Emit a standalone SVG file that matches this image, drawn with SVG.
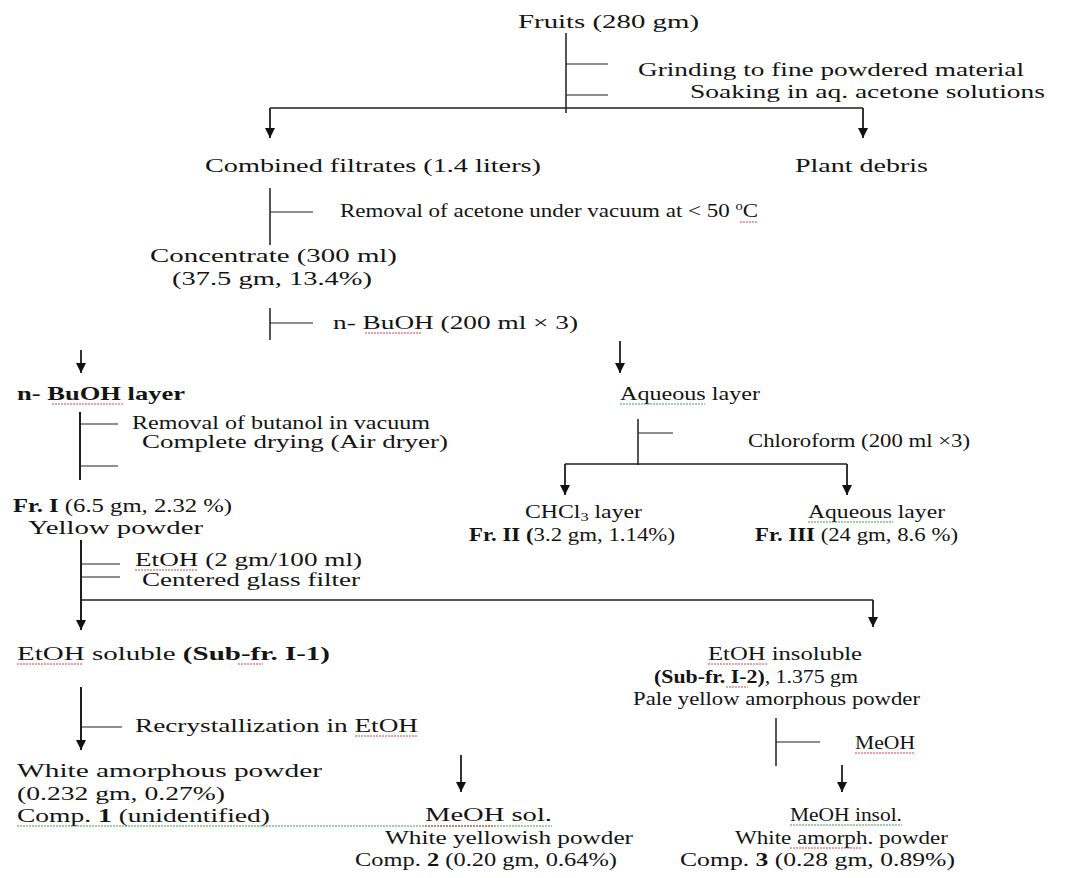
<svg xmlns="http://www.w3.org/2000/svg" width="1067" height="878" viewBox="0 0 1067 878">
<defs>
<style>
text{font-family:"Liberation Serif","Times New Roman",serif;font-size:19px;fill:#141414}
.b{font-weight:bold}
.sm{font-size:18px}
.ln{stroke:#1e1e1e;stroke-width:1.5;fill:none}
.tk{stroke:#1e1e1e;stroke-width:1.2;fill:none}
.ar{stroke:#1e1e1e;stroke-width:1.8;fill:none;marker-end:url(#ah)}
.sr{stroke:#d04848;stroke-width:1;fill:none;stroke-dasharray:2 1}
.sg{stroke:#4a9a4a;stroke-width:1;fill:none;stroke-dasharray:2 1}
</style>
<marker id="ah" viewBox="0 0 10 10" refX="10" refY="5" markerWidth="10" markerHeight="10" markerUnits="userSpaceOnUse" orient="auto">
<path d="M0,0 L10,5 L0,10 z" fill="#111"/>
</marker>
</defs>
<rect width="1067" height="878" fill="#fff"/>

<g id="connectors">
<path class="ln" d="M566,33 V113"/>
<path class="tk" d="M566,64 H608 M566,95 H608"/>
<path class="ln" d="M270,108 H863"/>
<path class="ar" d="M270,108 V138"/>
<path class="ar" d="M863,108 V138"/>
<path class="ln" d="M270,188 V245"/>
<path class="tk" d="M270,212 H313"/>
<path class="ln" d="M270,308 V340"/>
<path class="tk" d="M270,323 H313"/>
<path class="ar" d="M81,350 V373"/>
<path class="ar" d="M620,341 V373"/>
<path class="ln" d="M80,412 V480" style="stroke-width:2"/>
<path class="tk" d="M80,424 H118 M80,466 H118"/>
<path class="ln" d="M638,419 V465"/>
<path class="tk" d="M638,433 H673"/>
<path class="ln" d="M565,464 H847"/>
<path class="ar" d="M565,464 V495"/>
<path class="ar" d="M847,464 V495"/>
<path class="ar" d="M81,540 V630" style="stroke-width:2"/>
<path class="tk" d="M81,564 H120 M81,577 H120"/>
<path class="ln" d="M81,600 H873"/>
<path class="ar" d="M873,600 V627"/>
<path class="ar" d="M81,687 V750" style="stroke-width:2"/>
<path class="tk" d="M81,727 H122"/>
<path class="ln" d="M776,718 V766"/>
<path class="tk" d="M776,742 H820"/>
<path class="ar" d="M842,765 V792"/>
<path class="ar" d="M461,755 V792"/>
</g>

<g id="n-fruits"><text x="518" y="28" textLength="181" lengthAdjust="spacingAndGlyphs">Fruits (280 gm)</text></g>
<g id="s-grinding">
<text x="638" y="76" textLength="386" lengthAdjust="spacingAndGlyphs">Grinding to fine powdered material</text>
<text x="690" y="98" textLength="355" lengthAdjust="spacingAndGlyphs">Soaking in aq. acetone solutions</text>
</g>
<g id="n-filtrates"><text x="205" y="172" textLength="336" lengthAdjust="spacingAndGlyphs">Combined filtrates (1.4 liters)</text></g>
<g id="n-debris"><text x="795" y="172" textLength="133" lengthAdjust="spacingAndGlyphs">Plant debris</text></g>
<g id="s-acetone">
<text x="340" y="217" textLength="418" lengthAdjust="spacingAndGlyphs">Removal of acetone under vacuum at &lt; 50 <tspan font-size="12" dy="-7">o</tspan><tspan dy="7">C</tspan></text>
<path class="sr" d="M740,222 H758"/>
</g>
<g id="n-concentrate">
<text x="150" y="262" textLength="247" lengthAdjust="spacingAndGlyphs">Concentrate (300 ml)</text>
<text x="172" y="285" textLength="200" lengthAdjust="spacingAndGlyphs">(37.5 gm, 13.4%)</text>
</g>
<g id="s-buoh">
<text x="333" y="329" textLength="245" lengthAdjust="spacingAndGlyphs">n- BuOH (200 ml × 3)</text>
<path class="sr" d="M365,333 H422"/>
</g>
<g id="n-buoh-layer">
<text class="b" x="17" y="400" textLength="168" lengthAdjust="spacingAndGlyphs">n- BuOH layer</text>
<path class="sr" d="M52,404 H123"/>
</g>
<g id="n-aqueous1">
<text x="620" y="400" textLength="140" lengthAdjust="spacingAndGlyphs">Aqueous layer</text>
<path class="sg" d="M620,404 H705"/>
</g>
<g id="s-butanol">
<text class="sm" x="132" y="429" textLength="298" lengthAdjust="spacingAndGlyphs">Removal of butanol in vacuum</text>
<text class="sm" x="142" y="448" textLength="306" lengthAdjust="spacingAndGlyphs">Complete drying (Air dryer)</text>
</g>
<g id="s-chloroform"><text x="748" y="447" textLength="222" lengthAdjust="spacingAndGlyphs">Chloroform (200 ml ×3)</text></g>
<g id="n-fr1">
<text x="13" y="512" textLength="219" lengthAdjust="spacingAndGlyphs"><tspan class="b">Fr. I</tspan> (6.5 gm, 2.32 %)</text>
<text x="28" y="534" textLength="175" lengthAdjust="spacingAndGlyphs">Yellow powder</text>
</g>
<g id="n-fr2">
<text x="525" y="518" textLength="117" lengthAdjust="spacingAndGlyphs">CHCl<tspan font-size="13" dy="3">3</tspan><tspan dy="-3"> layer</tspan></text>
<text x="469" y="541" textLength="206" lengthAdjust="spacingAndGlyphs"><tspan class="b">Fr. II (</tspan>3.2 gm, 1.14%)</text>
</g>
<g id="n-fr3">
<text x="808" y="518" textLength="137" lengthAdjust="spacingAndGlyphs">Aqueous layer</text>
<path class="sg" d="M808,522 H893"/>
<text x="755" y="541" textLength="203" lengthAdjust="spacingAndGlyphs"><tspan class="b">Fr. III</tspan> (24 gm, 8.6 %)</text>
</g>
<g id="s-etoh">
<text class="sm" x="135" y="566" textLength="227" lengthAdjust="spacingAndGlyphs">EtOH (2 gm/100 ml)</text>
<path class="sr" d="M135,570 H198"/>
<text class="sm" x="142" y="586" textLength="218" lengthAdjust="spacingAndGlyphs">Centered glass filter</text>
</g>
<g id="n-sub1">
<text x="17" y="660" textLength="313" lengthAdjust="spacingAndGlyphs">EtOH soluble <tspan class="b">(Sub-fr. I-1)</tspan></text>
<path class="sr" d="M17,664 H82 M238,664 H263"/>
</g>
<g id="n-sub2">
<text x="708" y="660" textLength="154" lengthAdjust="spacingAndGlyphs">EtOH insoluble</text>
<path class="sr" d="M708,664 H768"/>
<text x="654" y="683" textLength="204" lengthAdjust="spacingAndGlyphs"><tspan class="b">(Sub-fr. I-2)</tspan>, 1.375 gm</text>
<path class="sr" d="M726,687 H748"/>
<text x="633" y="705" textLength="287" lengthAdjust="spacingAndGlyphs">Pale yellow amorphous powder</text>
</g>
<g id="s-recryst">
<text x="135" y="732" textLength="283" lengthAdjust="spacingAndGlyphs">Recrystallization in EtOH</text>
<path class="sr" d="M355,736 H418"/>
</g>
<g id="s-meoh">
<text x="855" y="749" textLength="60" lengthAdjust="spacingAndGlyphs">MeOH</text>
<path class="sr" d="M855,753 H915"/>
</g>
<g id="n-comp1">
<text x="17" y="777" textLength="305" lengthAdjust="spacingAndGlyphs">White amorphous powder</text>
<text x="17" y="800" textLength="208" lengthAdjust="spacingAndGlyphs">(0.232 gm, 0.27%)</text>
<text x="17" y="822" textLength="253" lengthAdjust="spacingAndGlyphs">Comp. <tspan class="b">1</tspan> (unidentified)</text>
<path class="sg" d="M17,826 H552"/>
</g>
<g id="n-comp2">
<text x="425" y="821" textLength="127" lengthAdjust="spacingAndGlyphs">MeOH sol.</text>
<path class="sr" d="M425,826 H495"/>
<text x="385" y="844" textLength="248" lengthAdjust="spacingAndGlyphs">White yellowish powder</text>
<text x="355" y="866" textLength="262" lengthAdjust="spacingAndGlyphs">Comp. <tspan class="b">2</tspan> (0.20 gm, 0.64%)</text>
</g>
<g id="n-comp3">
<text x="790" y="821" textLength="112" lengthAdjust="spacingAndGlyphs">MeOH insol.</text>
<path class="sg" d="M790,825 H902"/>
<text x="735" y="844" textLength="213" lengthAdjust="spacingAndGlyphs">White amorph. powder</text>
<path class="sr" d="M790,848 H862"/>
<text x="680" y="866" textLength="275" lengthAdjust="spacingAndGlyphs">Comp. <tspan class="b">3</tspan> (0.28 gm, 0.89%)</text>
</g>
</svg>
